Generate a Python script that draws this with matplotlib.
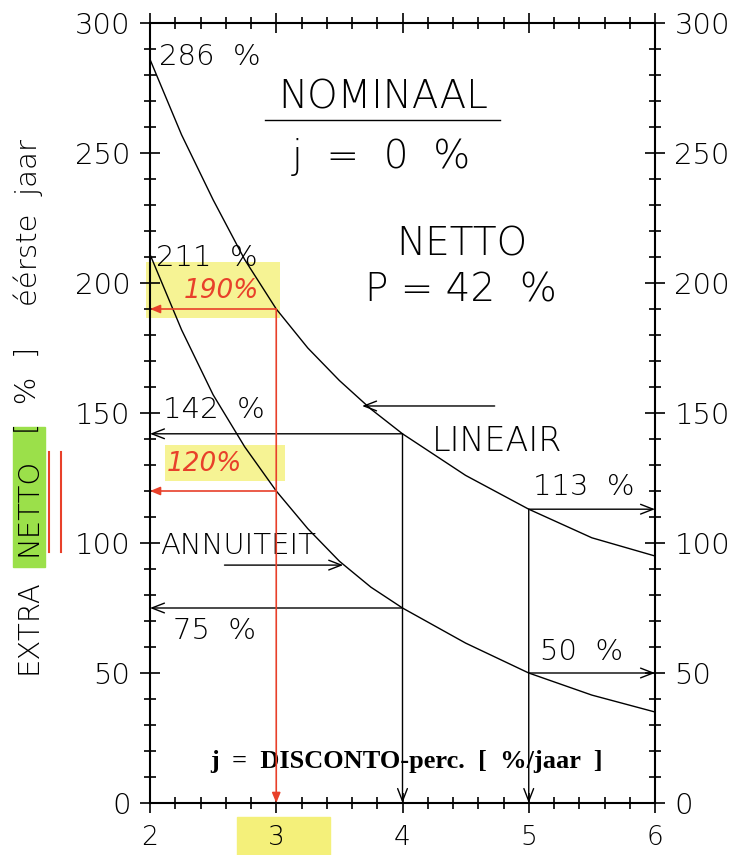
import matplotlib.pyplot as plt
from matplotlib.patches import Rectangle
from matplotlib.ticker import MultipleLocator

# discount rate j [%/jaar]
j = [2.0, 2.25, 2.5, 2.75, 3.0, 3.25, 3.5, 3.75, 4.0, 4.5, 5.0, 5.5, 6.0]
# extra netto eerste jaar [%]
lineair = [286, 257, 232, 209, 190, 175, 162.5, 151.5, 142, 126, 113, 102, 95]
annuiteit = [211, 182, 157, 137, 120, 105.5, 93, 83, 75, 61.5, 50, 41.5, 35]

# marked read-offs
lin_marks = [(4, 142), (5, 113)]
ann_marks = [(4, 75), (5, 50)]
red_j = 3
red_vals = [190, 120]

plt.rcParams['font.family'] = 'DejaVu Sans'

fig = plt.figure(figsize=(7.38, 8.55), dpi=100)
ax = fig.add_axes([150/738, 52/855, 505/738, 780/855])

ax.plot(j, lineair, color='black', lw=1.0)
ax.plot(j, annuiteit, color='black', lw=1.0)

ax.set_xlim(2, 6)
ax.set_ylim(0, 300)

arrow = dict(arrowstyle='->,head_length=0.9,head_width=0.35', lw=1.0, color='black',
             shrinkA=0, shrinkB=0)

# left-pointing read-offs at j=4, down arrows to axis
for x, y in [lin_marks[0], ann_marks[0]]:
    ax.annotate('', xy=(2, y), xytext=(x, y), arrowprops=arrow)
ax.annotate('', xy=(4, 0), xytext=(4, lin_marks[0][1]), arrowprops=arrow)
# right-pointing read-offs at j=5
for x, y in [lin_marks[1], ann_marks[1]]:
    ax.annotate('', xy=(6, y), xytext=(x, y), arrowprops=arrow)
ax.annotate('', xy=(5, 0), xytext=(5, lin_marks[1][1]), arrowprops=arrow)

# curve label arrows
ax.annotate('', xy=(3.68, 152.7), xytext=(4.73, 152.7), arrowprops=arrow)
ax.annotate('', xy=(3.53, 91.5), xytext=(2.59, 91.5), arrowprops=arrow)

lt = dict(va='center', fontweight='light')
ts = 21
ax.text(2.07, 287, '286  %', fontsize=ts, **lt)
ax.text(2.05, 209.6, '211  %', fontsize=ts, **lt)
ax.text(2.10, 151, '142  %', fontsize=ts, **lt)
ax.text(2.18, 66, '75  %', fontsize=ts, **lt)
ax.text(5.03, 121.5, '113  %', fontsize=ts, **lt)
ax.text(5.09, 58, '50  %', fontsize=ts, **lt)
ax.text(4.23, 139, 'LINEAIR', fontsize=24, **lt)
ax.text(2.08, 99, 'ANNUITEIT', fontsize=21, **lt)

big = 28
ax.text(3.845, 271.5, 'NOMINAAL', fontsize=big, ha='center', **lt)
ax.plot([2.91, 4.77], [262.7, 262.7], color='black', lw=1.0)
ax.text(3.83, 248.5, 'j  =  0  %', fontsize=big, ha='center', **lt)
ax.text(4.47, 215, 'NETTO', fontsize=big, ha='center', **lt)
ax.text(4.46, 197, 'P = 42  %', fontsize=big, ha='center', **lt)

ax.text(4.03, 15.8, 'j  =  DISCONTO-perc.  [  %/jaar  ]', fontsize=19, ha='center',
        va='center', fontweight='bold', family='Liberation Serif')

# handwritten red marks with yellow highlights
red = '#e8402a'
yel = '#f4f07a'
ax.add_patch(Rectangle((1.97, 186.5), 1.06, 21.5, color=yel, alpha=0.8, lw=0,
                       clip_on=False, zorder=0))
ax.add_patch(Rectangle((2.12, 124), 0.95, 13.7, color=yel, alpha=0.8, lw=0, zorder=0))
red_arrow = dict(arrowstyle='-|>,head_length=0.6,head_width=0.25', lw=1.2, color=red,
                 shrinkA=0, shrinkB=0)
for v in red_vals:
    ax.annotate('', xy=(2, v), xytext=(red_j, v), arrowprops=red_arrow)
ax.annotate('', xy=(red_j, 0), xytext=(red_j, red_vals[0]), arrowprops=red_arrow)
ax.text(2.27, 197, '190%', fontsize=19, color=red, style='italic', va='center')
ax.text(2.13, 130.5, '120%', fontsize=19, color=red, style='italic', va='center')

# ticks
ax.xaxis.set_major_locator(MultipleLocator(1))
ax.xaxis.set_minor_locator(MultipleLocator(0.2))
ax.yaxis.set_major_locator(MultipleLocator(50))
ax.yaxis.set_minor_locator(MultipleLocator(10))
ax.tick_params(which='both', direction='inout', top=True, right=True,
               labelright=True, width=1.2)
ax.tick_params(which='major', length=14, labelsize=21, pad=7)
ax.tick_params(which='minor', length=9)
ax.tick_params(axis='x', which='major', labelsize=19, pad=9)
for lab in ax.get_xticklabels() + ax.get_yticklabels():
    lab.set_fontweight('light')
for s in ax.spines.values():
    s.set_linewidth(1.5)

# y label pieces
ylc = dict(rotation=90, fontsize=21, ha='center', va='center', fontweight='light')
fig.text(28/738, 1 - 627/855, 'EXTRA', **ylc)
fig.text(28/738, 1 - 507/855, 'NETTO', **ylc)
fig.text(28/738, 1 - 390/855, '[  %  ]', **ylc)
fig.text(28/738, 1 - 222/855, 'éérste  jaar', **ylc)
fig.patches.append(Rectangle((13/738, 1 - 567/855), 32/738, 140/855,
                             transform=fig.transFigure, color='#9be04a', zorder=-1))
for px in (49, 61):
    fig.add_artist(plt.Line2D([px/738, px/738], [1 - 552/855, 1 - 452/855],
                              color=red, lw=1.5, transform=fig.transFigure))
# highlight behind tick label 3
fig.patches.append(Rectangle((237/738, 0), 93/738, 38/855,
                             transform=fig.transFigure, color=yel, zorder=-1))

fig.savefig('out.png', dpi=100)
